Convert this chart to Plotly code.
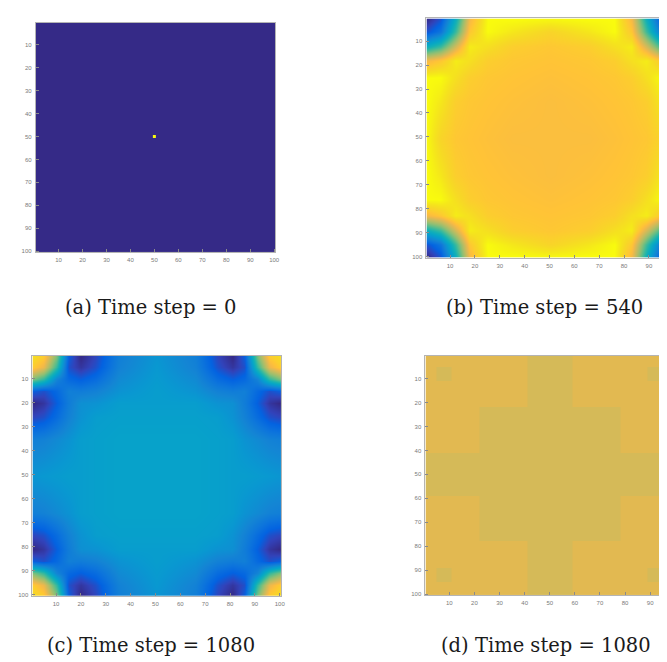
import plotly.graph_objects as go

# ---------------- data ----------------
TICKS = [10, 20, 30, 40, 50, 60, 70, 80, 90, 100]
CAPTIONS = ["(a) Time step = 0", "(b) Time step = 540",
            "(c) Time step = 1080", "(d) Time step = 1080"]

# (a) uniform field with a single excited cell at (50, 50); bin edges
A_EDGES = [0.5, 49.5, 50.5, 100.5]
A_Z = [[0.0, 0.0, 0.0],
       [0.0, 1.0, 0.0],
       [0.0, 0.0, 0.0]]

# (b) values read on a coarse grid (cell centres)
B_GRID = [1, 6, 12, 18, 25, 35, 50.5, 66, 76, 83, 89, 95, 100]
B_Z = [
    [0.01, 0.10, 0.42, 0.82, 1.00, 1.00, 0.99, 1.00, 1.00, 0.82, 0.42, 0.10, 0.01],
    [0.10, 0.19, 0.51, 0.87, 1.00, 0.96, 0.91, 0.96, 1.00, 0.87, 0.51, 0.19, 0.10],
    [0.42, 0.51, 0.75, 0.97, 0.94, 0.89, 0.87, 0.89, 0.94, 0.97, 0.75, 0.51, 0.42],
    [0.82, 0.87, 0.97, 0.94, 0.89, 0.87, 0.86, 0.87, 0.89, 0.94, 0.97, 0.87, 0.82],
    [1.00, 1.00, 0.94, 0.89, 0.87, 0.86, 0.85, 0.86, 0.87, 0.89, 0.94, 1.00, 1.00],
    [1.00, 0.96, 0.89, 0.87, 0.86, 0.85, 0.84, 0.85, 0.86, 0.87, 0.89, 0.96, 1.00],
    [0.99, 0.91, 0.87, 0.86, 0.85, 0.84, 0.84, 0.84, 0.85, 0.86, 0.87, 0.91, 0.99],
    [1.00, 0.96, 0.89, 0.87, 0.86, 0.85, 0.84, 0.85, 0.86, 0.87, 0.89, 0.96, 1.00],
    [1.00, 1.00, 0.94, 0.89, 0.87, 0.86, 0.85, 0.86, 0.87, 0.89, 0.94, 1.00, 1.00],
    [0.82, 0.87, 0.97, 0.94, 0.89, 0.87, 0.86, 0.87, 0.89, 0.94, 0.97, 0.87, 0.82],
    [0.42, 0.51, 0.75, 0.97, 0.94, 0.89, 0.87, 0.89, 0.94, 0.97, 0.75, 0.51, 0.42],
    [0.10, 0.19, 0.51, 0.87, 1.00, 0.96, 0.91, 0.96, 1.00, 0.87, 0.51, 0.19, 0.10],
    [0.01, 0.10, 0.42, 0.82, 1.00, 1.00, 0.99, 1.00, 1.00, 0.82, 0.42, 0.10, 0.01],
]

# (c) values read on a coarse grid (cell centres)
C_GRID = [1, 5, 10, 15, 20, 26, 35, 50.5, 66, 75, 81, 86, 91, 96, 100]
C_Z = [
    [0.93, 0.88, 0.60, 0.12, 0.00, 0.07, 0.23, 0.31, 0.23, 0.07, 0.00, 0.12, 0.60, 0.88, 0.93],
    [0.88, 0.80, 0.50, 0.09, 0.03, 0.09, 0.24, 0.32, 0.24, 0.09, 0.03, 0.09, 0.50, 0.80, 0.88],
    [0.60, 0.50, 0.25, 0.15, 0.12, 0.16, 0.27, 0.33, 0.27, 0.16, 0.12, 0.15, 0.25, 0.50, 0.60],
    [0.12, 0.09, 0.15, 0.23, 0.22, 0.24, 0.30, 0.34, 0.30, 0.24, 0.22, 0.23, 0.15, 0.09, 0.12],
    [0.00, 0.03, 0.12, 0.22, 0.29, 0.30, 0.34, 0.34, 0.34, 0.30, 0.29, 0.22, 0.12, 0.03, 0.00],
    [0.07, 0.09, 0.16, 0.24, 0.30, 0.34, 0.35, 0.35, 0.35, 0.34, 0.30, 0.24, 0.16, 0.09, 0.07],
    [0.23, 0.24, 0.27, 0.30, 0.34, 0.35, 0.36, 0.36, 0.36, 0.35, 0.34, 0.30, 0.27, 0.24, 0.23],
    [0.31, 0.32, 0.33, 0.34, 0.34, 0.35, 0.36, 0.36, 0.36, 0.35, 0.34, 0.34, 0.33, 0.32, 0.31],
    [0.23, 0.24, 0.27, 0.30, 0.34, 0.35, 0.36, 0.36, 0.36, 0.35, 0.34, 0.30, 0.27, 0.24, 0.23],
    [0.07, 0.09, 0.16, 0.24, 0.30, 0.34, 0.35, 0.35, 0.35, 0.34, 0.30, 0.24, 0.16, 0.09, 0.07],
    [0.00, 0.03, 0.12, 0.22, 0.29, 0.30, 0.34, 0.34, 0.34, 0.30, 0.29, 0.22, 0.12, 0.03, 0.00],
    [0.12, 0.09, 0.15, 0.23, 0.22, 0.24, 0.30, 0.34, 0.30, 0.24, 0.22, 0.23, 0.15, 0.09, 0.12],
    [0.60, 0.50, 0.25, 0.15, 0.12, 0.16, 0.27, 0.33, 0.27, 0.16, 0.12, 0.15, 0.25, 0.50, 0.60],
    [0.88, 0.80, 0.50, 0.09, 0.03, 0.09, 0.24, 0.32, 0.24, 0.09, 0.03, 0.09, 0.50, 0.80, 0.88],
    [0.93, 0.88, 0.60, 0.12, 0.00, 0.07, 0.23, 0.31, 0.23, 0.07, 0.00, 0.12, 0.60, 0.88, 0.93],
]

# (d) two-tone field; bin edges
D_EDGES = [0.5, 5, 11, 22, 41, 59, 78, 89, 95, 100.5]
D_Z = [
    [0.78, 0.78, 0.78, 0.78, 0.755, 0.78, 0.78, 0.78, 0.78],
    [0.78, 0.755, 0.78, 0.78, 0.755, 0.78, 0.78, 0.755, 0.78],
    [0.78, 0.78, 0.78, 0.78, 0.755, 0.78, 0.78, 0.78, 0.78],
    [0.78, 0.78, 0.78, 0.755, 0.755, 0.755, 0.78, 0.78, 0.78],
    [0.755, 0.755, 0.755, 0.755, 0.755, 0.755, 0.755, 0.755, 0.755],
    [0.78, 0.78, 0.78, 0.755, 0.755, 0.755, 0.78, 0.78, 0.78],
    [0.78, 0.78, 0.78, 0.78, 0.755, 0.78, 0.78, 0.78, 0.78],
    [0.78, 0.755, 0.78, 0.78, 0.755, 0.78, 0.78, 0.755, 0.78],
    [0.78, 0.78, 0.78, 0.78, 0.755, 0.78, 0.78, 0.78, 0.78],
]

# ---------------- style ----------------
PARULA = ["#352a87", "#3243ba", "#0363e1", "#0d75dc", "#1485d4", "#0998d1",
          "#06a7c6", "#15b1b4", "#38b99e", "#65be86", "#92bf73", "#b7bd64",
          "#d9ba56", "#e9b94e", "#f8bb44", "#ffc337", "#fcce2e", "#f7d826",
          "#f5e41d", "#f6f313", "#f9fb0e"]
PARULA_POS = [0, 4, 8, 12, 16, 20, 24, 28, 32, 36, 40, 44, 48, 50, 52, 54,
              56, 58, 60, 62, 63]
COLORSCALE = [[p / 63, c] for p, c in zip(PARULA_POS, PARULA)]

W, H = 667, 662

def fx(px):
    return px / W

def fy(py):
    return 1 - py / H

panels = [
    dict(x=A_EDGES, y=A_EDGES, z=A_Z, smooth=False,
         xd=[fx(28), fx(269)], yd=[fy(245), fy(15)], xr=[0.5, 100.5], mirror_y=True),
    dict(x=B_GRID, y=B_GRID, z=B_Z, smooth="best",
         xd=[fx(421), 1.0], yd=[fy(250.5), fy(10.5)], xr=[0.5, 98.9], mirror_y=False),
    dict(x=C_GRID, y=C_GRID, z=C_Z, smooth="best",
         xd=[fx(24.6), fx(274.6)], yd=[fy(589.5), fy(349)], xr=[0.5, 100.5], mirror_y=True),
    dict(x=D_EDGES, y=D_EDGES, z=D_Z, smooth=False,
         xd=[fx(420), 1.0], yd=[fy(589), fy(349)], xr=[0.5, 98.3], mirror_y=False),
]

fig = go.Figure()
layout = dict(width=W, height=H, margin=dict(l=0, r=0, t=0, b=0),
              paper_bgcolor="white", plot_bgcolor="white", showlegend=False)

tickfont = dict(size=6, color="#7a7a7a", family="Liberation Sans")
for i, p in enumerate(panels, start=1):
    sfx = "" if i == 1 else str(i)
    fig.add_trace(go.Heatmap(
        x=p["x"], y=p["y"], z=p["z"], zsmooth=p["smooth"],
        colorscale=COLORSCALE, zmin=0, zmax=1, showscale=False,
        xaxis="x" + sfx, yaxis="y" + sfx, hoverinfo="skip"))
    layout["xaxis" + sfx] = dict(
        domain=p["xd"], range=p["xr"], anchor="y" + sfx,
        tickmode="array", tickvals=TICKS, ticks="inside", ticklen=3,
        tickcolor="#8a8a8a", tickwidth=1, showline=True, linecolor="#b4b4b4",
        linewidth=1, mirror=True, showgrid=False, zeroline=False,
        tickfont=tickfont, ticklabelstandoff=2)
    layout["yaxis" + sfx] = dict(
        domain=p["yd"], range=[100.5, 0.5], anchor="x" + sfx,
        tickmode="array", tickvals=TICKS, ticks="inside", ticklen=3,
        tickcolor="#8a8a8a", tickwidth=1, showline=True, linecolor="#b4b4b4",
        linewidth=1, mirror=p["mirror_y"], showgrid=False, zeroline=False,
        tickfont=tickfont, ticklabelstandoff=2)

cap_pos = [(144, 300), (540, 300), (144, 639), (541, 639)]
layout["annotations"] = [
    dict(text=t, x=fx(cx), y=fy(cy), xref="paper", yref="paper",
         xanchor="center", yanchor="middle", showarrow=False,
         font=dict(family="DejaVu Serif", size=19.5, color="#1a1a1a"))
    for t, (cx, cy) in zip(CAPTIONS, cap_pos)
]
fig.update_layout(**layout)
fig.write_html("out.html")
